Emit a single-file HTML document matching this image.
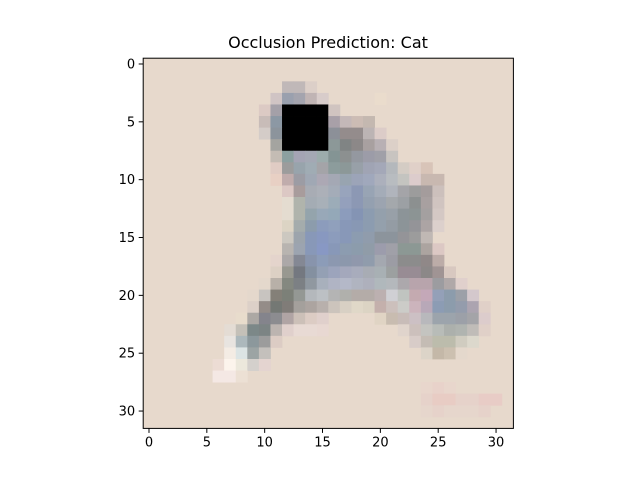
<!DOCTYPE html>
<html><head><meta charset="utf-8"><style>
html,body{margin:0;padding:0;background:#fff;}
svg text{font-family:"DejaVu Sans","Liberation Sans",sans-serif;}
</style></head><body>
<svg id="chart" width="640" height="480" viewBox="0 0 640 480" xmlns="http://www.w3.org/2000/svg">
<rect width="640" height="480" fill="#fff"/>
<text x="328" y="48" font-size="16" text-anchor="middle" fill="#000">Occlusion Prediction: Cat</text>
<g id="cells"></g>
<g id="axes"></g>
</svg>
<script>
const gridSize = 32;
const backgroundColor = "#e7d9cc";
const xTicks = [0,5,10,15,20,25,30];
const yTicks = [0,5,10,15,20,25,30];
// [row, startCol, colors...]
const pixelRows = [
[2,12,["c0b8b8","c0b8b8","dccfc8"]],
[3,11,["d0c4c4","9aa0ae","a4a4ae","c0b4b4","d8ccca"]],
[3,20,["eadccc"]],
[4,10,["dccac4","a4a0a8","000000","000000","000000","000000","d0c4c0"]],
[5,10,["c8bcb8","8c98a4","000000","000000","000000","000000","a8a0a8","c4b8b8","ccbcb4","c4b8b0"]],
[6,10,["d4ccc8","8c949c","000000","000000","000000","000000","8c9098","948c8c","948c8c","bcb4b4","dcccc8"]],
[7,11,["a4a4a0","000000","000000","000000","000000","8c9898","808484","8c8888","a8a0a0","b8b0b4","dcd0c8"]],
[8,11,["c4bcb4","8ca0a0","a4a4b4","a4a8b4","9cacac","849494","8c9090","9498a0","9c9ca8","a0a0a8","c8c4c0"]],
[9,11,["e0ccc4","9c9c9c","98a4ac","a0acb4","a4a4a8","8c9c9c","8c9898","98a0a8","a0a4b4","a4a8b8","b4b8bc","d4ccc4","e0d0c8","d8c4b8"]],
[10,11,["e8d0c4","c0acac","9c9ca4","a0a8b4","aca8b4","a4a8b4","98a4b0","9ca4b8","a0a8bc","acb0bc","b8bcc0","c4c4c0","dccccc","c8b8b0","c8b8b0"]],
[11,12,["dcc8c4","a89c9c","a8acb4","acb0b8","a4acb8","98a4bc","8c98b4","98a4b4","a4acb8","b0b4bc","a4a4a8","9c9c9c","a49c9c","ccc0bc"]],
[12,12,["e4dcd0","b0b4ac","a4acb4","a8b0b8","9cacb8","94a0bc","8c98b4","94a0b0","9ca4b0","a4a8ac","9ca0a4","8c9090","a8a0a0","d0c4c0"]],
[13,12,["e4dcd0","b0b4ac","94a4ac","98a8b8","94a8b8","8c9cbc","8494b4","8c9cb0","94a0ac","98a0a8","8c9498","8c9494","a4a0a0","d4c8c4"]],
[14,12,["dcd4c4","a4acac","8c9cac","8c9cbc","90a0bc","8898b8","8898b4","8c9cb0","94a0ac","949ca4","8c9498","949498","aca4a4","dcd0cc"]],
[15,12,["ccc8c0","9ca4ac","8898b8","8898c0","8c9cbc","8898b8","8c9cb0","909cac","8c949c","8c949c","949498","9c9c9c","c0b8b4"]],
[16,12,["b8b4b0","9ca4b0","8898b8","8898c4","8898b8","8c9cb0","8c9cac","909ca8","9c9cac","a0a0a8","8c9894","8c9894","aca4a0","dcc8c4"]],
[17,11,["e4d4cc","aca8a8","848894","8894ac","8c9cb8","8c98b0","8c98ac","9098ac","909cac","a4a8b0","9c9ca4","8c8c8c","8c8c8c","908888","bcaca8"]],
[18,11,["dcd0c4","989890","747880","8490a0","94a0b4","9ca4bc","a4a8bc","a8acbc","a8acb4","a8b0b4","9ca0a0","988c94","988c94","8c8888","a09494","d8c8c0"]],
[19,10,["e4d8cc","b8b0a8","848880","7c8084","9098a0","a8b0bc","b0b4c4","b4b8c8","b0b4c0","aeb0bc","b0b8bc","b4b8bc","aca8ac","b8a4ac","b8a4ac","9c9ca0","b0a8a8","e0d0cc"]],
[20,9,["e4d8cc","c8c4c0","848078","7c8078","949894","b4b8bc","bcc0c4","b4b4b4","b0b0ac","b4aca8","b4aca8","bcb0b0","d0d0d4","c0c4c0","c4aab0","c4a8b8","94a0b8","8c9cac","9ca0a8","d4c8cc"]],
[21,9,["dcd0c8","948c88","747874","807c78","a4a09c","aca4a0","b8b0ac","ccc4bc","d8d0c4","e0d8c8","dcd4c4","c4b0ac","ccc0bc","ccccc8","ccb4bc","b8a8b8","8c9cb4","8c9cac","949cac","aca4b0","e0d0c8"]],
[22,8,["e8dccc","aca8a4","84848c","8c8c90","b0a4a4","ccc0b8","dcccc4","e0d0cc"]],
[22,20,["e0d4c4","c8bcb0","c8bcb8","ccc0c4","b8b8bc","9ca4ac","9ca4ac","9ca0a8","a4a4a8","dccccc"]],
[23,7,["e4dcd4","c4c0b8","7c8888","7c8484","bcb4b0","e0d0cc","e8dad4","e8dad4","e8d8d2"]],
[23,22,["e0d4cc","ccc0bc","c4c4c0","b8bcb8","acb0ac","b0b4b0","c0bcb8","e0d0c8"]],
[24,7,["e8e4e0","acb8bc","8c989c","9c9c9c","dcccc4"]],
[24,23,["d8ccc8","c4bcb4","bcbcac","bcbcac","d0ccc0","dcd8cc"]],
[25,7,["f4ece4","dce4e4","9ca4a4","c4c0bc"]],
[25,24,["dcd4c8","c4b8a8","ccc0b0","e4d8cc"]],
[26,6,["ecdcd4","fcf4ec","ece8dc","d4d0cc","e4d4d0"]],
[27,6,["f4e8e4","f4e8e4","ece0d4"]],
[28,24,["e8d6cc","e8d2ca","e8d6cc"]],
[29,24,["e6d2ca","e8ccc4","e8ccc4","e6d2ca","e6d2ca","e8ccc6","e8ccc6"]],
[30,24,["e6d6cc","e6d2ca","e6d6cc","e6d6cc","e6d6cc","e6d2ca"]]
];
const NS="http://www.w3.org/2000/svg";
const x0=143.2, y0=58.2, side=370.2, cell=side/gridSize;
const xPos=v=>x0+(v+0.5)*cell, yPos=v=>y0+(v+0.5)*cell;
const cg=document.getElementById('cells'), ag=document.getElementById('axes');
function mk(tag,attrs,parent){const e=document.createElementNS(NS,tag);for(const k in attrs)e.setAttribute(k,attrs[k]);parent.appendChild(e);return e;}
const bg=mk('rect',{x:x0,y:y0,width:side,height:side,fill:backgroundColor},cg);


pixelRows.forEach(([r,c,cols])=>{
  cols.forEach((hex,i)=>{
    const rc=mk('rect',{x:xPos(c+i)-cell/2,y:yPos(r)-cell/2,width:cell+0.4,height:cell+0.4,fill:'#'+hex},cg);
    
    
  });
});
const frame=mk('rect',{x:x0,y:y0,width:side,height:side,fill:'none',stroke:'#000','stroke-width':1},ag);


xTicks.forEach(t=>{
  const x=xPos(t);
  const l=mk('line',{x1:x,y1:y0+side,x2:x,y2:y0+side+4.5,stroke:'#000','stroke-width':1},ag);
  
  
  const tx=mk('text',{x:x,y:y0+side+18,'font-size':13,'text-anchor':'middle',fill:'#000'},ag);
  tx.textContent=t;
  
  
});
yTicks.forEach(t=>{
  const y=yPos(t);
  const l=mk('line',{x1:x0-4.5,y1:y,x2:x0,y2:y,stroke:'#000','stroke-width':1},ag);
  
  
  const tx=mk('text',{x:x0-8,y:y+4.5,'font-size':13,'text-anchor':'end',fill:'#000'},ag);
  tx.textContent=t;
  
  
});
</script>
</body></html>
